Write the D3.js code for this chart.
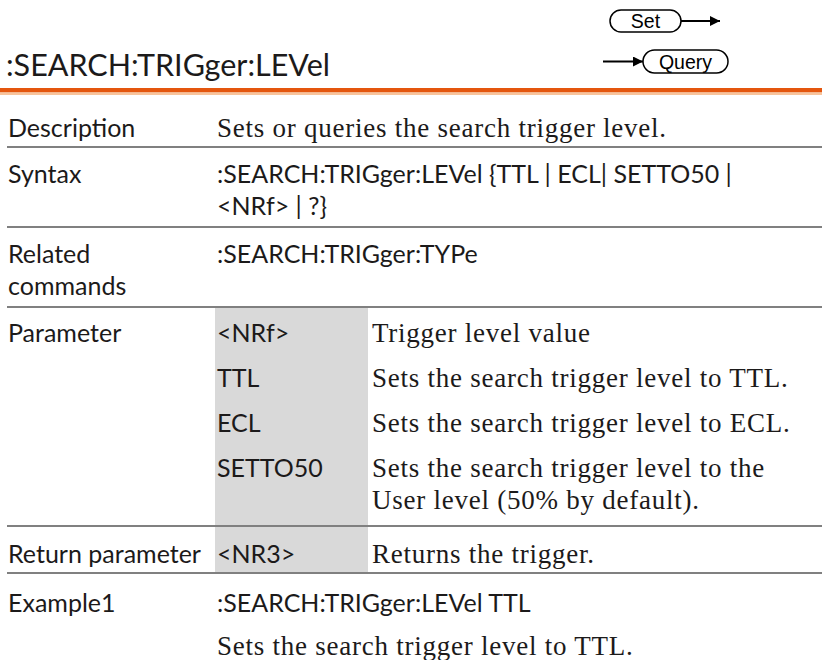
<!DOCTYPE html>
<html>
<head>
<meta charset="utf-8">
<script src="https://cdn.jsdelivr.net/npm/d3@7"></script>
<style>
  html, body { margin: 0; padding: 0; background: #ffffff; }
  svg { display: block; }
</style>
</head>
<body>
<div id="chart"></div>
<script>
// ---------- data ----------
const title = ":SEARCH:TRIGger:LEVel";
const badges = ["Set", "Query"];
const rowLabels = [["Description"], ["Syntax"], ["Related", "commands"], ["Parameter"], ["Return parameter"], ["Example1"]];
const descriptionText = ["Sets or queries the search trigger level."];
const syntaxText = [":SEARCH:TRIGger:LEVel {TTL | ECL| SETTO50 |", "<NRf> | ?}"];
const relatedText = [":SEARCH:TRIGger:TYPe"];
const paramNames = ["<NRf>", "TTL", "ECL", "SETTO50"];
const paramDescs = [["Trigger level value"], ["Sets the search trigger level to TTL."], ["Sets the search trigger level to ECL."], ["Sets the search trigger level to the", "User level (50% by default)."]];
const returnNames = ["<NR3>"];
const returnDescs = [["Returns the trigger."]];
const exampleText = [":SEARCH:TRIGger:LEVel TTL", "Sets the search trigger level to TTL."];

// ---------- layout ----------
const W = 822, H = 660;
const SANS = "Lato, 'Open Sans', sans-serif";
const SERIF = "'Liberation Serif', 'DejaVu Serif', serif";
const INK = "#1c1a1a";
const x0 = 8, x1 = 217, xGrayL = 215, xGrayR = 368, x2 = 372;
const sansSize = 25, serifSize = 27, serifSpacing = 0.75;
const lineH = 32;

const svg = d3.select("#chart").append("svg").attr("width", W).attr("height", H);

// title
svg.append("text").attr("x", 6).attr("y", 76)
  .attr("font-family", SANS).attr("font-size", 30.5).attr("fill", INK).text(title);

// badges
const defs = svg.append("defs");
defs.append("marker").attr("id", "arr").attr("viewBox", "0 0 10 10")
  .attr("refX", 10).attr("refY", 5).attr("markerWidth", 11).attr("markerHeight", 10)
  .attr("markerUnits", "userSpaceOnUse").attr("orient", "auto")
  .append("path").attr("d", "M0,0 L10,5 L0,10 Z").attr("fill", "#000");

const badgeBoxes = [{x: 610, y: 10, w: 71, h: 22, ax1: 681, ax2: 720}, {x: 643, y: 50, w: 85, h: 23, ax1: 603, ax2: 643}];
badges.forEach((b, i) => {
  const bb = badgeBoxes[i];
  const g = svg.append("g");
  g.append("rect").attr("x", bb.x).attr("y", bb.y).attr("width", bb.w).attr("height", bb.h)
    .attr("rx", bb.h / 2).attr("ry", bb.h / 2).attr("fill", "#fff").attr("stroke", "#000").attr("stroke-width", 1.5);
  g.append("text").attr("x", bb.x + bb.w / 2).attr("y", bb.y + bb.h / 2 + 7)
    .attr("text-anchor", "middle").attr("font-family", "'Liberation Sans', Arial, sans-serif")
    .attr("font-size", 19.5).attr("fill", "#000").text(b);
  g.append("line").attr("x1", bb.ax1).attr("x2", bb.ax2).attr("y1", bb.y + bb.h / 2).attr("y2", bb.y + bb.h / 2)
    .attr("stroke", "#000").attr("stroke-width", 1.8).attr("marker-end", "url(#arr)");
});

// orange rule
svg.append("rect").attr("x", 0).attr("y", 88).attr("width", W).attr("height", 4.5).attr("fill", "#e4560e");
svg.append("rect").attr("x", 0).attr("y", 92.5).attr("width", W).attr("height", 2.5).attr("fill", "#f8c49c");

// rows layout (y baselines)
const sepYs = [147, 227, 307, 526, 573];
const rowBase = [137, 183, 263, 342, 563, 612];
const paramStep = 45;

// gray column
svg.append("rect").attr("x", xGrayL).attr("y", sepYs[2] + 1).attr("width", xGrayR - xGrayL)
  .attr("height", sepYs[4] - sepYs[2] - 1).attr("fill", "#d9d9d9");

// separators
svg.selectAll("line.sep").data(sepYs).join("line").attr("class", "sep")
  .attr("x1", 7).attr("x2", W).attr("y1", d => d).attr("y2", d => d)
  .attr("stroke", "#808080").attr("stroke-width", 2.2);

function lines(sel, arr, x, y, serif) {
  arr.forEach((t, i) => {
    sel.append("text").attr("x", x).attr("y", y + i * lineH)
      .attr("font-family", serif ? SERIF : SANS)
      .attr("font-size", serif ? serifSize : sansSize)
      .attr("letter-spacing", serif ? serifSpacing : 0)
      .attr("fill", INK).text(t);
  });
}

// labels
rowLabels.forEach((lab, i) => lines(svg, lab, x0, rowBase[i], false));

lines(svg, descriptionText, x1, rowBase[0], true);
lines(svg, syntaxText, x1, rowBase[1], false);
lines(svg, relatedText, x1, rowBase[2], false);

paramNames.forEach((n, i) => {
  lines(svg, [n], x1, rowBase[3] + i * paramStep, false);
  lines(svg, paramDescs[i], x2, rowBase[3] + i * paramStep, true);
});
returnNames.forEach((n, i) => {
  lines(svg, [n], x1, rowBase[4], false);
  lines(svg, returnDescs[i], x2, rowBase[4], true);
});
lines(svg, [exampleText[0]], x1, rowBase[5], false);
lines(svg, [exampleText[1]], x1, rowBase[5] + 43, true);
</script>
</body>
</html>
